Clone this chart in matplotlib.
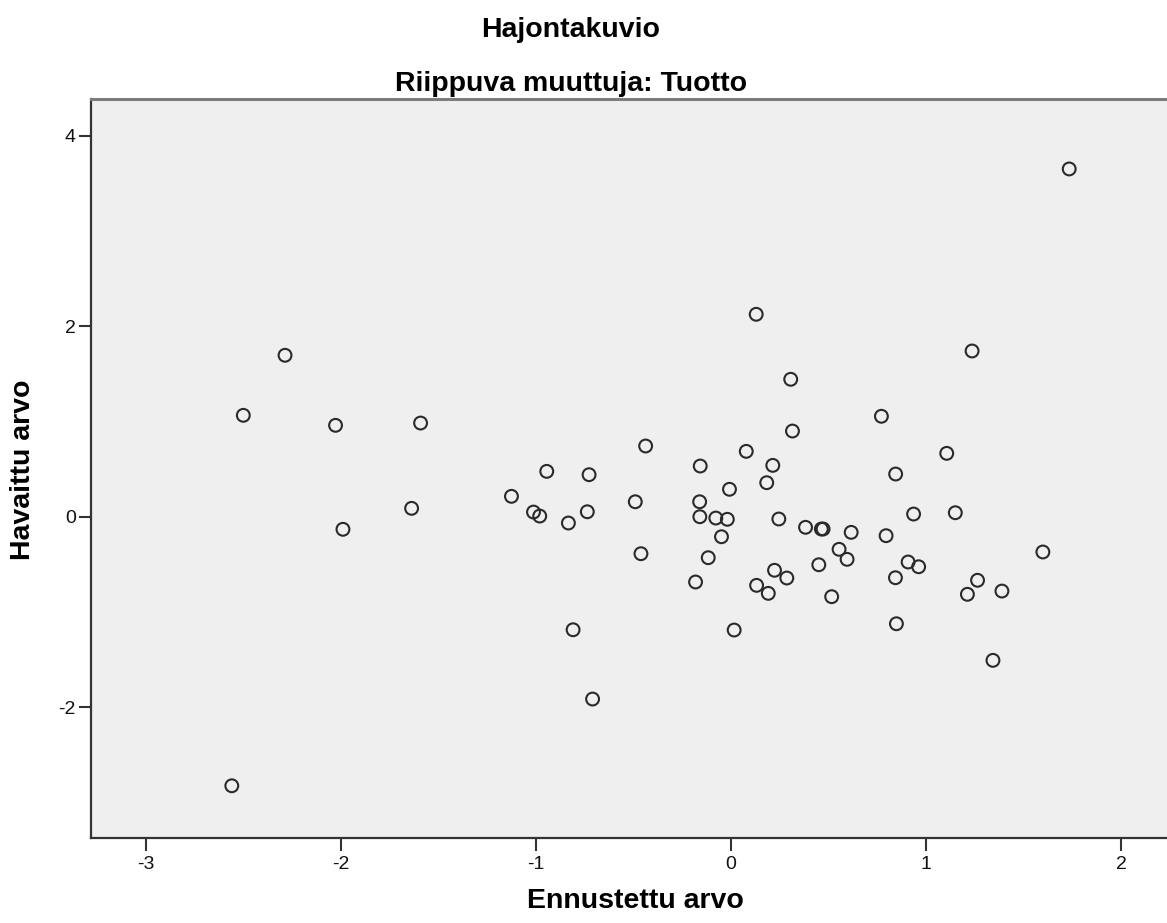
import numpy as np
import matplotlib
matplotlib.use('Agg')
import matplotlib.pyplot as plt

plt.rcParams['font.family'] = ['Liberation Sans', 'DejaVu Sans']
plt.rcParams['axes.unicode_minus'] = False

# Predicted vs observed values
ennustettu = [-2.287, -2.501, -2.028, -1.592, -1.638, -1.990, -2.560,
              -1.126, -1.013, -0.981, -0.945, -0.834, -0.737, -0.728,
              -0.491, -0.438, -0.462, -0.810, -0.710,
              -0.158, -0.161, -0.160, -0.078, -0.019, -0.008, -0.049,
              -0.117, -0.182, 0.016, 0.078, 0.129, 0.183, 0.214, 0.306,
              0.315, 0.245, 0.382, 0.463, 0.472, 0.616, 0.554, 0.595,
              0.450, 0.223, 0.286, 0.131, 0.191, 0.516,
              0.771, 1.106, 1.236, 0.844, 0.936, 1.150, 0.795, 1.599,
              0.908, 0.962, 0.843, 1.264, 1.212, 1.389, 0.848, 1.343, 1.734]
havaittu = [1.694, 1.064, 0.959, 0.983, 0.088, -0.132, -2.823,
            0.214, 0.049, 0.007, 0.476, -0.066, 0.052, 0.441,
            0.157, 0.742, -0.388, -1.186, -1.913,
            0.532, 0.157, 0.000, -0.014, -0.027, 0.288, -0.210,
            -0.430, -0.685, -1.189, 0.686, 2.124, 0.357, 0.539, 1.442,
            0.899, -0.024, -0.111, -0.129, -0.129, -0.164, -0.342, -0.447,
            -0.504, -0.562, -0.643, -0.720, -0.804, -0.839,
            1.054, 0.665, 1.739, 0.448, 0.028, 0.042, -0.199, -0.370,
            -0.475, -0.525, -0.640, -0.667, -0.814, -0.780, -1.123, -1.507, 3.649]

x_ticks = [-3, -2, -1, 0, 1, 2]
y_ticks = [-2, 0, 2, 4]

W, H = 1167, 923
fig = plt.figure(figsize=(W / 100, H / 100), dpi=100)
ax = fig.add_axes([91 / W, 1 - 838 / H, 1088 / W, 739 / H])
ax.set_facecolor('#efefef')

ax.scatter(ennustettu, havaittu, s=85, facecolors='none',
           edgecolors='#2a2a2a', linewidths=1.5, zorder=3)

ax.set_xlim(-3.282, 2.297)
ax.set_ylim(-3.371, 4.383)
ax.set_xticks(x_ticks)
ax.set_xticklabels([str(v) for v in x_ticks])
ax.set_yticks(y_ticks)
ax.set_yticklabels([str(v) for v in y_ticks])
ax.tick_params(axis='both', labelsize=14, length=9, width=1.5,
               color='#333333', labelcolor='#111111')
ax.tick_params(axis='x', pad=4)
ax.tick_params(axis='y', pad=2)

for side in ['left', 'bottom']:
    ax.spines[side].set_color('#333333')
    ax.spines[side].set_linewidth(1.6)
ax.spines['top'].set_color('#7d7d7d')
ax.spines['top'].set_linewidth(2.2)
ax.spines['right'].set_visible(False)

# Titles and axis labels
fig.text(571 / W, 1 - 37 / H, 'Hajontakuvio', ha='center', va='baseline',
         fontsize=20.5, fontweight='bold')
fig.text(571 / W, 1 - 91 / H, 'Riippuva muuttuja: Tuotto', ha='center',
         va='baseline', fontsize=20.5, fontweight='bold')
fig.text(635 / W, 1 - 908 / H, 'Ennustettu arvo', ha='center', va='baseline',
         fontsize=20.5, fontweight='bold')
fig.text(23 / W, 1 - 470 / H, 'Havaittu arvo', ha='center', va='center',
         rotation=90, fontsize=20.5, fontweight='bold')

plt.savefig('out.png', dpi=100)
